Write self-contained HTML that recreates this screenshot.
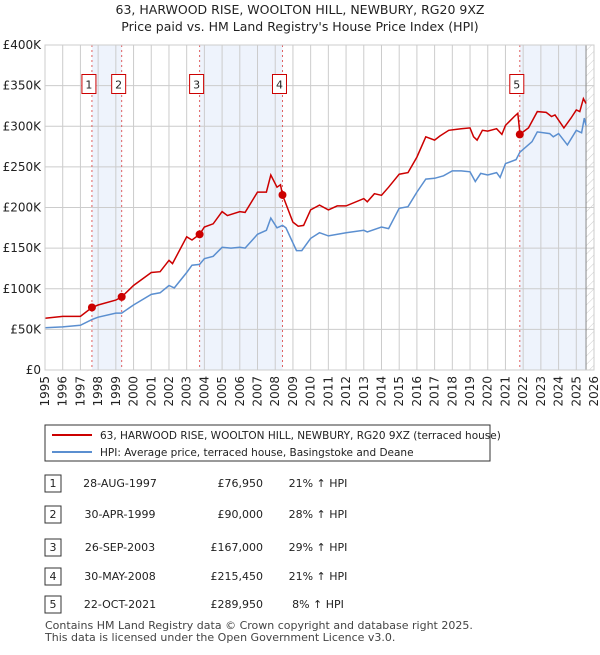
<!DOCTYPE html>
<html><head><meta charset="utf-8"><style>
body{margin:0;background:#fff;font-family:"Liberation Sans","DejaVu Sans",sans-serif}
svg text{font-family:"DejaVu Sans","Liberation Sans",sans-serif}
</style></head><body>
<svg id="c" width="600" height="650" xmlns="http://www.w3.org/2000/svg">
<defs><pattern id="hatch" width="6" height="6" patternUnits="userSpaceOnUse" patternTransform="rotate(45)"><line x1="0" y1="0" x2="0" y2="6" stroke="#ccc" stroke-width="1"/></pattern></defs>
<text x="300" y="14" text-anchor="middle" font-size="12.5" fill="#222">63, HARWOOD RISE, WOOLTON HILL, NEWBURY, RG20 9XZ</text>
<text x="300" y="31" text-anchor="middle" font-size="12.5" fill="#222">Price paid vs. HM Land Registry's House Price Index (HPI)</text>
<g id="plot"></g>
<g>
<rect x="45" y="425" width="445" height="36" fill="#fff" stroke="#333"/>
<line x1="52" y1="435" x2="92" y2="435" stroke="#cc0000" stroke-width="2"/>
<text x="100" y="439" font-size="10.5" fill="#222">63, HARWOOD RISE, WOOLTON HILL, NEWBURY, RG20 9XZ (terraced house)</text>
<line x1="52" y1="452" x2="92" y2="452" stroke="#5b8fd0" stroke-width="2"/>
<text x="100" y="456" font-size="10.5" fill="#222">HPI: Average price, terraced house, Basingstoke and Deane</text>
</g>
<g id="table" font-size="11" fill="#222"></g>
<text x="45" y="629" font-size="11" fill="#444">Contains HM Land Registry data © Crown copyright and database right 2025.</text>
<text x="45" y="641" font-size="11" fill="#444">This data is licensed under the Open Government Licence v3.0.</text>
</svg>
<script>
const hpiDates=[1995,1996,1997,1997.65,1998,1999,1999.33,2000,2001,2001.5,2002,2002.3,2003,2003.3,2003.73,2004,2004.5,2005,2005.5,2006,2006.3,2007,2007.5,2007.75,2008.1,2008.41,2008.6,2009.2,2009.5,2010,2010.5,2011,2012,2013,2013.2,2014,2014.4,2015,2015.5,2016,2016.5,2017,2017.5,2018,2018.5,2019,2019.3,2019.6,2020,2020.5,2020.7,2021,2021.6,2021.81,2022.5,2022.8,2023.5,2023.7,2024,2024.5,2025,2025.3,2025.45,2025.55];
const hpiValues=[52000,53000,55000,62000,65000,70000,70000,80000,93000,95000,104000,101000,120000,129000,130000,137000,140000,151000,150000,151000,150000,167000,172000,187000,175000,178000,175000,147000,147000,162000,169000,165000,169000,172000,170000,176000,174000,199000,201000,219000,235000,236000,239000,245000,245000,244000,232000,242000,240000,243000,237000,254000,259000,268000,281000,293000,291000,287000,291000,277000,295000,292000,310000,301000];
const ppDates=[1995,1996,1997,1997.65,1998,1999,1999.33,2000,2001,2001.5,2002,2002.2,2003,2003.3,2003.73,2004,2004.5,2005,2005.3,2006,2006.3,2007,2007.5,2007.75,2008.1,2008.3,2008.41,2009,2009.3,2009.6,2010,2010.5,2011,2011.5,2012,2013,2013.2,2013.6,2014,2014.4,2015,2015.5,2016,2016.5,2017,2017.3,2017.8,2018.5,2019,2019.2,2019.4,2019.7,2020,2020.5,2020.8,2021,2021.5,2021.7,2021.8,2021.81,2022.3,2022.8,2023.3,2023.6,2023.8,2024.3,2024.7,2025,2025.2,2025.4,2025.55];
const ppValues=[63600,66000,66000,76950,80000,86000,90000,104000,120000,121000,135000,131000,164000,160000,167000,176000,180000,195000,190000,195000,194000,219000,219000,240000,225000,228000,215450,182000,177000,178000,197000,203000,197000,202000,202000,211000,207000,217000,215000,225000,241000,243000,262000,287000,283000,288000,295000,297000,298000,287000,283000,295000,294000,297000,290000,301000,312000,316000,295000,289950,298000,318000,317000,312000,314000,298000,310000,320000,318000,334000,328000];
const saleIds=["1","2","3","4","5"];
const saleDates=[1997.65,1999.33,2003.73,2008.41,2021.81];
const saleValues=[76950,90000,167000,215450,289950];
const saleDateLabels=["28-AUG-1997","30-APR-1999","26-SEP-2003","30-MAY-2008","22-OCT-2021"];
const salePriceLabels=["£76,950","£90,000","£167,000","£215,450","£289,950"];
const salePctLabels=["21% ↑ HPI","28% ↑ HPI","29% ↑ HPI","21% ↑ HPI","8% ↑ HPI"];
const yTicks=[0,50000,100000,150000,200000,250000,300000,350000,400000];
const yTickLabels=["£0","£50K","£100K","£150K","£200K","£250K","£300K","£350K","£400K"];
const xTicks=[1995,1996,1997,1998,1999,2000,2001,2002,2003,2004,2005,2006,2007,2008,2009,2010,2011,2012,2013,2014,2015,2016,2017,2018,2019,2020,2021,2022,2023,2024,2025,2026];
const dataEnd=2025.55;

const NS="http://www.w3.org/2000/svg";
const X0=45,X1=594,Y0=370,Y1=45;
const xs=t=>X0+(t-1995)*(X1-X0)/31;
const ys=v=>Y0-v*(Y0-Y1)/400000;
const plot=document.getElementById('plot');
function mk(tag,attrs,parent){const e=document.createElementNS(NS,tag);for(const k in attrs)e.setAttribute(k,attrs[k]);(parent||plot).appendChild(e);return e;}

[[0,1],[2,3]].forEach(p=>{const b=mk('rect',{x:xs(saleDates[p[0]]),y:Y1,width:xs(saleDates[p[1]])-xs(saleDates[p[0]]),height:Y0-Y1,fill:'#eef3fc'});

});
const b5=mk('rect',{x:xs(saleDates[4]),y:Y1,width:xs(dataEnd)-xs(saleDates[4]),height:Y0-Y1,fill:'#eef3fc'});


const h=mk('rect',{x:xs(dataEnd),y:Y1,width:X1-xs(dataEnd),height:Y0-Y1,fill:'url(#hatch)'});



yTicks.forEach((v,i)=>{const l=mk('line',{x1:X0,x2:X1,y1:ys(v),y2:ys(v),stroke:'#ccc','stroke-width':1});


const t=mk('text',{x:X0-4,y:ys(v)+4,'text-anchor':'end','font-size':12,fill:'#222'});t.textContent=yTickLabels[i];

});
xTicks.forEach(yr=>{const l=mk('line',{x1:xs(yr),x2:xs(yr),y1:Y1,y2:Y0,stroke:'#ccc','stroke-width':1});


const t=mk('text',{x:0,y:0,'text-anchor':'end','font-size':12,fill:'#222',transform:`translate(${xs(yr)+4},${Y0+6}) rotate(-90)`});t.textContent=yr;

});
const dl=mk('line',{x1:xs(dataEnd),x2:xs(dataEnd),y1:Y1,y2:Y0,stroke:'#888','stroke-width':1});



saleDates.forEach((d,i)=>{const l=mk('line',{x1:xs(d),x2:xs(d),y1:Y1,y2:Y0,stroke:'#e06060','stroke-width':1,'stroke-dasharray':'2,3'});

});
saleDates.forEach((d,i)=>{const cx=xs(d)-3;
const r=mk('rect',{x:cx-7,y:ys(360000)-3,width:14,height:19,fill:'#fff',stroke:'#c00','stroke-width':1});


const t=mk('text',{x:cx,y:ys(360000)+11,'text-anchor':'middle','font-size':11,fill:'#222'});t.textContent=saleIds[i];

});

const pth=(D,V)=>D.map((d,i)=>(i?'L':'M')+xs(d).toFixed(1)+','+ys(V[i]).toFixed(1)).join('');
const hl=mk('path',{d:pth(hpiDates,hpiValues),fill:'none',stroke:'#5b8fd0','stroke-width':1.5});


const pl=mk('path',{d:pth(ppDates,ppValues),fill:'none',stroke:'#cc0000','stroke-width':1.5});


saleDates.forEach((d,i)=>{const c=mk('circle',{cx:xs(d),cy:ys(saleValues[i]),r:4,fill:'#cc0000'});

});
const br=mk('rect',{x:X0,y:Y1,width:X1-X0,height:Y0-Y1,fill:'none',stroke:'#ccc'});



const tb=document.getElementById('table');
const rowY=[483,514,547,576,604];
saleIds.forEach((id,i)=>{const y=rowY[i];
const r=mk('rect',{x:45,y:y-8,width:16,height:17,fill:'#fff',stroke:'#333'},tb);


const cells=[[53,'middle',id],[120,'middle',saleDateLabels[i]],[263,'end',salePriceLabels[i]],[318,'middle',salePctLabels[i]]];
cells.forEach(c=>{const t=mk('text',{x:c[0],y:y+4,'text-anchor':c[1]},tb);t.textContent=c[2];

});});
</script>
</body></html>
